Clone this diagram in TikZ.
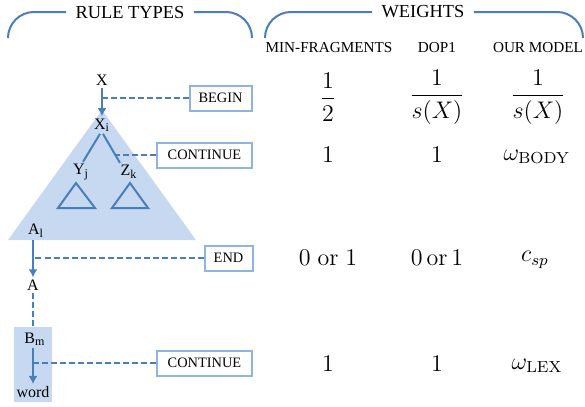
\documentclass[tikz,border=0pt]{standalone}
\usepackage[no-math]{fontspec}
\setmainfont{Liberation Serif}
\usetikzlibrary{arrows.meta,calc}
\definecolor{lineblue}{RGB}{74,126,187}
\definecolor{shadeblue}{RGB}{198,217,240}
\definecolor{boxblue}{RGB}{142,180,227}
\tikzset{
  lbl/.style={inner sep=1pt, font=\fontsize{8}{9}\selectfont},
  rulebox/.style={draw=boxblue, line width=1pt, inner sep=0pt, minimum height=12.5pt,
    font=\fontsize{7.2}{8}\selectfont},
  title/.style={inner sep=4.5pt, font=\fontsize{9.2}{10}\selectfont},
  colhead/.style={inner sep=1pt, font=\fontsize{7.6}{9}\selectfont},
  weight/.style={inner sep=1pt, font=\fontsize{11.5}{13}\selectfont},
  bracket/.style={draw=lineblue, line width=1pt, rounded corners=13pt},
  treeline/.style={draw=lineblue, line width=1pt},
  arr/.style={treeline, -{Latex[length=4pt,width=4.5pt]}},
  dashline/.style={draw=lineblue, line width=0.8pt, dash pattern=on 3pt off 1.5pt},
}
\begin{document}
\begin{tikzpicture}[x=0.5pt,y=-0.5pt]
  %%%%% FRAME %%%%%
  \useasboundingbox (0,0) rectangle (585,407);

  %%%%% HEADINGS %%%%%
  \node[title] (rules) at (130,12) {RULE TYPES};
  \node[title] (weights) at (423,12) {WEIGHTS};
  \draw[bracket] (rules.west) -| (8,38);
  \draw[bracket] (rules.east) -| (252,38);
  \draw[bracket] (weights.west) -| (265,38);
  \draw[bracket] (weights.east) -| (583,38);

  \node[colhead] (minfrag) at (329,48) {MIN-FRAGMENTS};
  \node[colhead] (dop) at (437,48) {DOP1};
  \node[colhead] (ours) at (538,48) {OUR MODEL};

  %%%%% SHADED AREAS %%%%%
  \fill[shadeblue] (102,110) -- (8,240) -- (196,240) -- cycle;
  \node[fill=shadeblue, minimum width=19pt, minimum height=37.5pt, inner sep=0pt]
    (lexbox) at (33,364.5) {};

  %%%%% TREE %%%%%
  \node[lbl] (x) at (102,80) {X};
  \node[lbl] (xi) at (102,125) {X\textsubscript{i}};
  \node[lbl] (yj) at (81,172) {Y\textsubscript{j}};
  \node[lbl] (zk) at (129,172) {Z\textsubscript{k}};
  \node[lbl] (al) at (36,231) {A\textsubscript{l}};
  \node[lbl] (a) at (33,285) {A};
  \node[lbl] (bm) at (35,339) {B\textsubscript{m}};
  \node[lbl] (word) at (33,392) {word};

  \draw[arr] (x) -- (xi);
  \draw[treeline] ([xshift=-1pt]xi.south) -- ([xshift=1pt]yj.north);
  \draw[treeline] ([xshift=0.5pt]xi.south) -- node[pos=0.72,coordinate] (br) {} ([xshift=-4.5pt]zk.north);
  \draw[treeline] (76,183) -- (58,208) -- (95,208) -- cycle;
  \draw[treeline] (130,183) -- (112,208) -- (148,208) -- cycle;
  \draw[arr] (al.south -| a) -- (a);
  \draw[dashline] (a) -- (lexbox.north -| a);
  \draw[arr] (bm.south -| word) -- (word);

  %%%%% RULE TYPES %%%%%
  \node[rulebox, minimum width=31pt] (begin) at (220.5,98) {BEGIN};
  \node[rulebox, minimum width=47.5pt] (cont1) at (204.5,155) {CONTINUE};
  \node[rulebox, minimum width=24pt] (end) at (228.5,258) {END};
  \node[rulebox, minimum width=47.5pt] (cont2) at (204.5,363) {CONTINUE};

  \draw[dashline] (begin.west) -- (begin.west -| x);
  \draw[dashline] (cont1.west) -- (cont1.west -| br);
  \draw[dashline] (end.west) -- (end.west -| a);
  \draw[dashline] (cont2.west) -- (cont2.west -| word);

  %%%%% WEIGHTS %%%%%
  \node[weight] (w11) at (328,97) {$\displaystyle\frac{1}{2}$};
  \node[weight] (w12) at (437,97) {$\displaystyle\frac{1}{s(X)}$};
  \node[weight] (w13) at (538,97) {$\displaystyle\frac{1}{s(X)}$};

  \node[weight] (w21) at (328,155) {$1$};
  \node[weight] (w22) at (437,155) {$1$};
  \node[weight] (w23) at (537,157) {$\omega_{\mathrm{BODY}}$};

  \node[weight] (w31) at (328,258) {$0\hspace{3.5pt}\mathrm{or}\hspace{3.5pt}1$};
  \node[weight] (w32) at (437,258) {$0\hspace{2pt}\mathrm{or}\hspace{2pt}1$};
  \node[weight] (w33) at (535,260) {$c_{sp}$};

  \node[weight] (w41) at (328,364) {$1$};
  \node[weight] (w42) at (437,364) {$1$};
  \node[weight] (w43) at (537,366) {$\omega_{\mathrm{LEX}}$};
\end{tikzpicture}
\end{document}
